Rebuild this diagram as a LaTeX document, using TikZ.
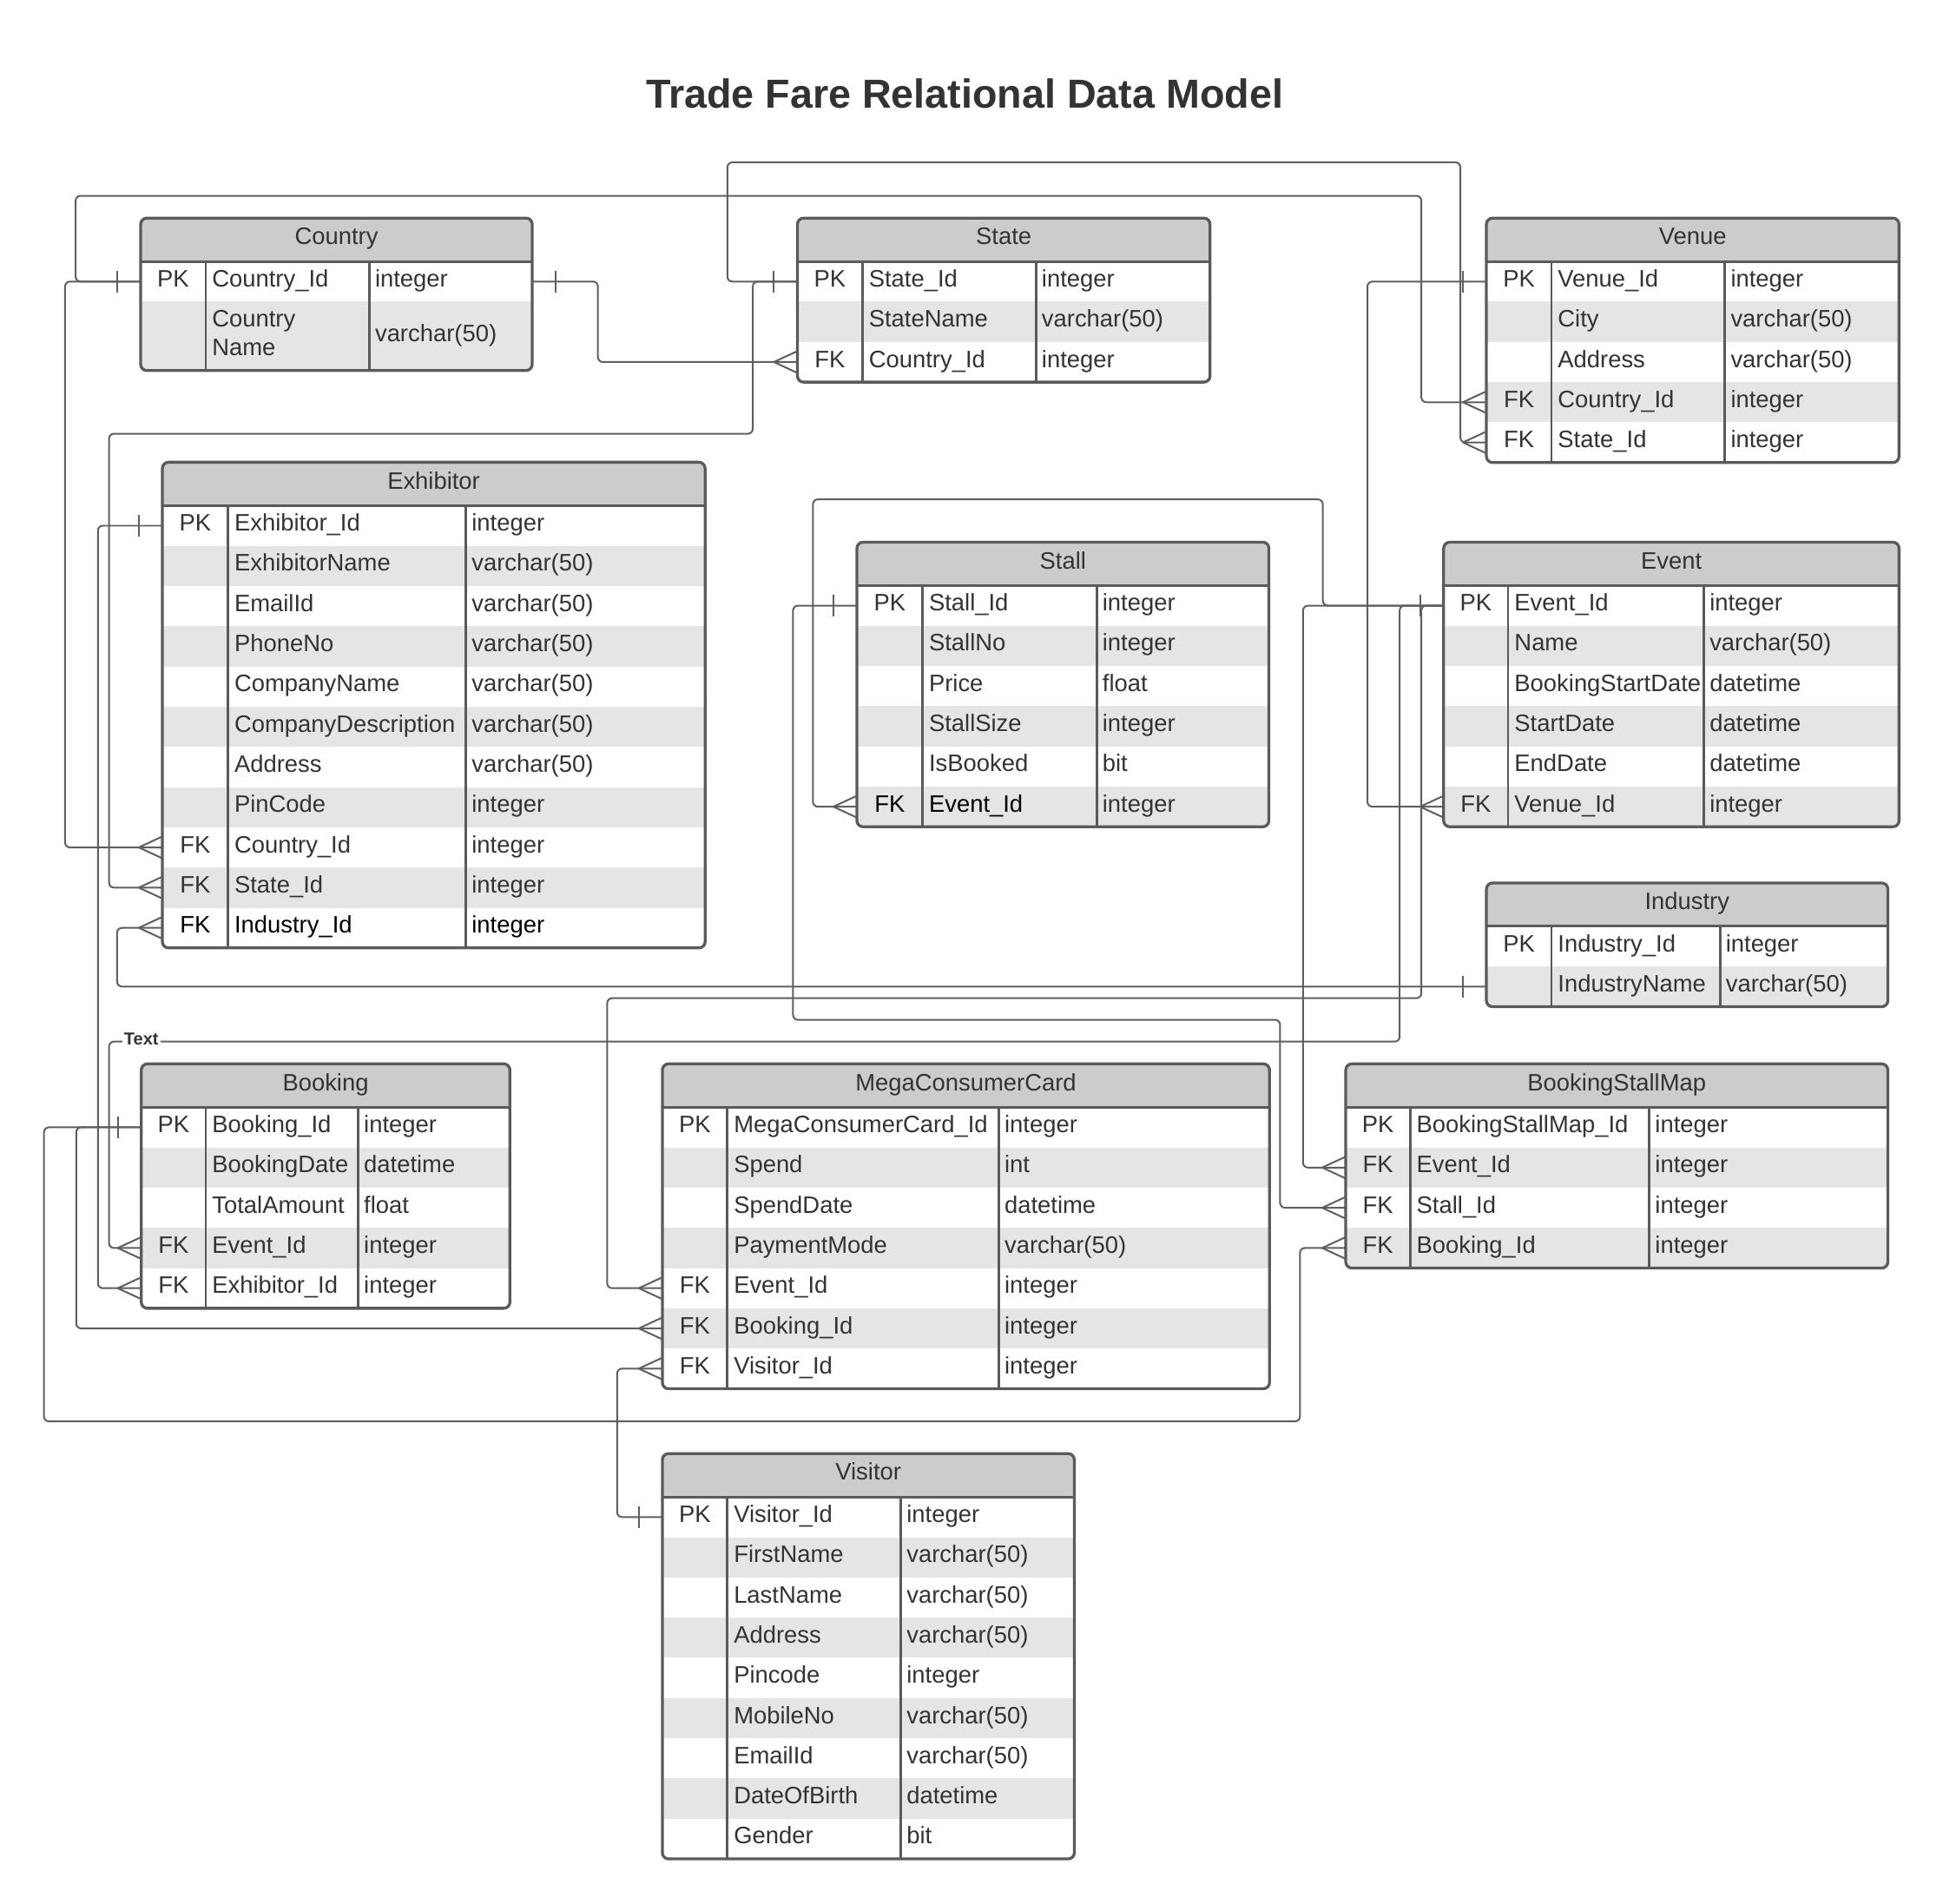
\documentclass[tikz,border=0pt]{standalone}
\usepackage{fontspec}
\setmainfont{Liberation Sans}
\usetikzlibrary{calc}
\definecolor{txt}{HTML}{333333}
\definecolor{hdr}{HTML}{CCCCCC}
\definecolor{strp}{HTML}{E5E5E5}
\definecolor{bord}{HTML}{5A5A5A}
\definecolor{lnc}{HTML}{5F5F5F}
\newcommand\rowh{32.45}
\newcommand\blk[1]{\textcolor{black}{#1}}
\tikzset{
  conn/.style={draw=lnc, line width=1.4pt, rounded corners=4pt},
  tblborder/.style={draw=bord, line width=2.3pt},
  tblline/.style={draw=bord, line width=2pt},
  hdrfill/.style={fill=hdr},
  stripe/.style={fill=strp},
  cell/.style={font=\fontsize{19.2}{22}\selectfont, text=txt, inner sep=0pt},
  tbltitle/.style={cell, anchor=base},
  rowanchor/.style={rectangle, inner sep=0pt, outer sep=0pt, minimum height=32.45pt, draw=none},
  lbl/.style={font=\fontsize{14}{16}\selectfont\bfseries, text=txt, fill=white, inner sep=1.5pt},
  ttl/.style={font=\fontsize{32.7}{38}\selectfont\bfseries, text=txt, anchor=base, inner sep=0pt},
}
% #1 name, #2 x left, #3 col1, #4 col2, #5 x right, #6 y top, #7 title, #8 rows
\newcommand\ertable[8]{%
  \def\tXa{#2}\def\tXb{#3}\def\tXc{#4}\def\tXd{#5}\def\tYt{#6}%
  \pgfmathsetmacro\tYb{#6+35}%
  \def\tNr{0}%
  \foreach \colK/\colF/\colT [count=\i] in {#8}{\xdef\tNr{\i}}%
  \pgfmathsetmacro\tYe{\tYb+\tNr*\rowh}%
  \begin{scope}
    \clip[rounded corners=5pt] (\tXa,\tYt) rectangle (\tXd,\tYe);
    \fill[hdrfill] (\tXa,\tYt) rectangle (\tXd,\tYb);
    \foreach \colK/\colF/\colT [count=\i] in {#8}{%
      \pgfmathsetmacro\rA{\tYb+(\i-1)*\rowh}%
      \pgfmathsetmacro\rB{\rA+\rowh}%
      \ifodd\i\else\fill[stripe] (\tXa,\rA) rectangle (\tXd,\rB);\fi
    }
  \end{scope}
  \node[tbltitle] (#1) at ({(\tXa+\tXd)/2},{\tYt+21.5}) {#7};
  \foreach \colK/\colF/\colT [count=\i] in {#8}{%
    \pgfmathsetmacro\rA{\tYb+(\i-1)*\rowh}%
    \pgfmathsetmacro\rM{\rA+\rowh/2}%
    \node[rowanchor, minimum width={(\tXd-\tXa)*1pt}] (#1-\i) at ({(\tXa+\tXd)/2},\rM) {};
    \node[cell, anchor=base] at ({(\tXa+\tXb)/2},{\rA+20.5}) {\colK};
    \node[cell, anchor=base west] at ({\tXb+5},{\rA+20.5}) {\colF};
    \node[cell, anchor=base west] at ({\tXc+4.5},{\rA+20.5}) {\colT};
  }
  \draw[tblline] (\tXa,\tYb) -- (\tXd,\tYb) (\tXb,\tYb) -- (\tXb,\tYe) (\tXc,\tYb) -- (\tXc,\tYe);
  \draw[tblborder, rounded corners=5pt] (\tXa,\tYt) rectangle (\tXd,\tYe);
}
\newcommand\crowfoot[1]{\draw[conn] ($(#1)+(-19,0)$) -- ($(#1)+(0,-8.8)$) ($(#1)+(-19,0)$) -- ($(#1)+(0,8.8)$);}
\newcommand\onebar[2]{\draw[conn] ($(#1)+(#2,-8.8)$) -- ($(#1)+(#2,8.8)$);}

\begin{document}
\begin{tikzpicture}[x=1pt,y=-1pt]
\useasboundingbox[fill=white] (0,0) rectangle (1568,1536);

\node[ttl] (title) at (778.5,86.9) {Trade Fare Relational Data Model};

% ---------- Country (special: two-line row) ----------
\begin{scope}
  \clip[rounded corners=5pt] (113.5,176) rectangle (429.5,299);
  \fill[hdrfill] (113.5,176) rectangle (429.5,211);
  \fill[stripe] (113.5,243.45) rectangle (429.5,299);
\end{scope}
\node[tbltitle] (Country) at (271.5,197.5) {Country};
\node[rowanchor, minimum width=316pt] (Country-1) at (271.5,227.2) {};
\node[cell, anchor=base] at (139.75,231.5) {PK};
\node[cell, anchor=base west] at (171,231.5) {Country\_Id};
\node[cell, anchor=base west] at (302.5,231.5) {integer};
\node[rowanchor, minimum width=316pt, minimum height=55.5pt] (Country-2) at (271.5,271.2) {};
\node[cell, anchor=base west] at (171,264) {Country};
\node[cell, anchor=base west] at (171,286.8) {Name};
\node[cell, anchor=base west] at (302.5,275.5) {varchar(50)};
\draw[tblline] (113.5,211) -- (429.5,211) (166,211) -- (166,299) (298,211) -- (298,299);
\draw[tblborder, rounded corners=5pt] (113.5,176) rectangle (429.5,299);

% ---------- other tables ----------
\ertable{State}{643.5}{696}{836}{976.5}{176}{State}{PK/State\_Id/integer,/StateName/varchar(50),FK/Country\_Id/integer}

\ertable{Venue}{1199.5}{1252}{1392}{1532.5}{176}{Venue}{PK/Venue\_Id/integer,/City/varchar(50),/Address/varchar(50),FK/Country\_Id/integer,FK/State\_Id/integer}

\ertable{Exhibitor}{131}{184}{376}{569}{373}{Exhibitor}{PK/Exhibitor\_Id/integer,/ExhibitorName/varchar(50),/EmailId/varchar(50),/PhoneNo/varchar(50),/CompanyName/varchar(50),/CompanyDescription/varchar(50),/Address/varchar(50),/PinCode/integer,FK/Country\_Id/integer,FK/State\_Id/integer,\blk{FK}/\blk{Industry\_Id}/\blk{integer}}

\ertable{Stall}{691.5}{744.5}{885}{1024}{437.5}{Stall}{PK/Stall\_Id/integer,/StallNo/integer,/Price/float,/StallSize/integer,/IsBooked/bit,\blk{FK}/\blk{Event\_Id}/integer}

\ertable{Event}{1165}{1217}{1375}{1532.5}{437.5}{Event}{PK/Event\_Id/integer,/Name/varchar(50),/BookingStartDate/datetime,/StartDate/datetime,/EndDate/datetime,FK/Venue\_Id/integer}

\ertable{Industry}{1199.5}{1252}{1388}{1523.5}{712.5}{Industry}{PK/Industry\_Id/integer,/IndustryName/varchar(50)}

\ertable{Booking}{114}{166}{289}{411.5}{858.5}{Booking}{PK/Booking\_Id/integer,/BookingDate/datetime,/TotalAmount/float,FK/Event\_Id/integer,FK/Exhibitor\_Id/integer}

\ertable{MCC}{534.5}{587}{806}{1024.5}{858.5}{MegaConsumerCard}{PK/MegaConsumerCard\_Id/integer,/Spend/int,/SpendDate/datetime,/PaymentMode/varchar(50),FK/Event\_Id/integer,FK/Booking\_Id/integer,FK/Visitor\_Id/integer}

\ertable{BSM}{1086}{1138}{1331}{1523.5}{858.5}{BookingStallMap}{PK/BookingStallMap\_Id/integer,FK/Event\_Id/integer,FK/Stall\_Id/integer,FK/Booking\_Id/integer}

\ertable{Visitor}{534.5}{587}{727}{867}{1173}{Visitor}{PK/Visitor\_Id/integer,/FirstName/varchar(50),/LastName/varchar(50),/Address/varchar(50),/Pincode/integer,/MobileNo/varchar(50),/EmailId/varchar(50),/DateOfBirth/datetime,/Gender/bit}

% ---------- connectors ----------
% Country -> State
\draw[conn] (Country-1.east) -- ++(53,0) |- (State-3.west);
% Country -> Venue
\draw[conn] (Country-1.west) -| (61,158) -- (1147,158) |- (Venue-4.west);
% Country -> Exhibitor
\draw[conn] (Country-1.west) -- ++(-61,0) |- (Exhibitor-9.west);
% State -> Venue
\draw[conn] (State-1.west) -| (587,131) -- (1178.5,131) |- (Venue-5.west);
% State -> Exhibitor
\draw[conn] (State-1.west) -| (607.5,350) -- (88,350) |- (Exhibitor-10.west);
% Venue -> Event
\draw[conn] (Venue-1.west) -- ++(-96,0) |- (Event-6.west);
% Industry -> Exhibitor
\draw[conn] (Industry-2.west) -- ++(-1105,0) |- (Exhibitor-11.west);
% Exhibitor -> Booking
\draw[conn] (Exhibitor-1.west) -- ++(-52,0) |- (Booking-5.west);
% Stall -> BookingStallMap
\draw[conn] (Stall-1.west) -| (640,823) -- (1033,823) |- (BSM-3.west);
% Event -> Stall
\draw[conn] (Event-1.west) -| (1067.5,403) -- (656,403) |- (Stall-6.west);
% Event -> BookingStallMap
\draw[conn] (Event-1.west) -- ++(-113.5,0) |- (BSM-2.west);
% Event -> Booking
\draw[conn] (Event-1.west) -| (1129.5,840.5) -- (88,840.5) |- (Booking-4.west);
% Event -> MegaConsumerCard
\draw[conn] (Event-1.west) -| (1147,805.5) -- (490,805.5) |- (MCC-5.west);
% Booking -> BookingStallMap
\draw[conn] (Booking-1.west) -| (35.5,1147) -- (1049,1147) |- (BSM-4.west);
% Booking -> MegaConsumerCard
\draw[conn] (Booking-1.west) -- ++(-52.5,0) |- (MCC-6.west);
% Visitor -> MegaConsumerCard
\draw[conn] (Visitor-1.west) -- ++(-36.5,0) |- (MCC-7.west);

\node[lbl] (textlabel) at (114,838.5) {Text};

% ---------- one-bars ----------
\onebar{Country-1.east}{19}
\onebar{Country-1.west}{-19}
\onebar{State-1.west}{-19}
\onebar{Venue-1.west}{-19}
\onebar{Exhibitor-1.west}{-19}
\onebar{Stall-1.west}{-19}
\onebar{Event-1.west}{-19}
\onebar{Industry-2.west}{-19}
\onebar{Booking-1.west}{-19}
\onebar{Visitor-1.west}{-19}

% ---------- crow's feet ----------
\crowfoot{State-3.west}
\crowfoot{Venue-4.west}
\crowfoot{Venue-5.west}
\crowfoot{Exhibitor-9.west}
\crowfoot{Exhibitor-10.west}
\crowfoot{Exhibitor-11.west}
\crowfoot{Stall-6.west}
\crowfoot{Event-6.west}
\crowfoot{Booking-4.west}
\crowfoot{Booking-5.west}
\crowfoot{MCC-5.west}
\crowfoot{MCC-6.west}
\crowfoot{MCC-7.west}
\crowfoot{BSM-2.west}
\crowfoot{BSM-3.west}
\crowfoot{BSM-4.west}
\end{tikzpicture}
\end{document}
